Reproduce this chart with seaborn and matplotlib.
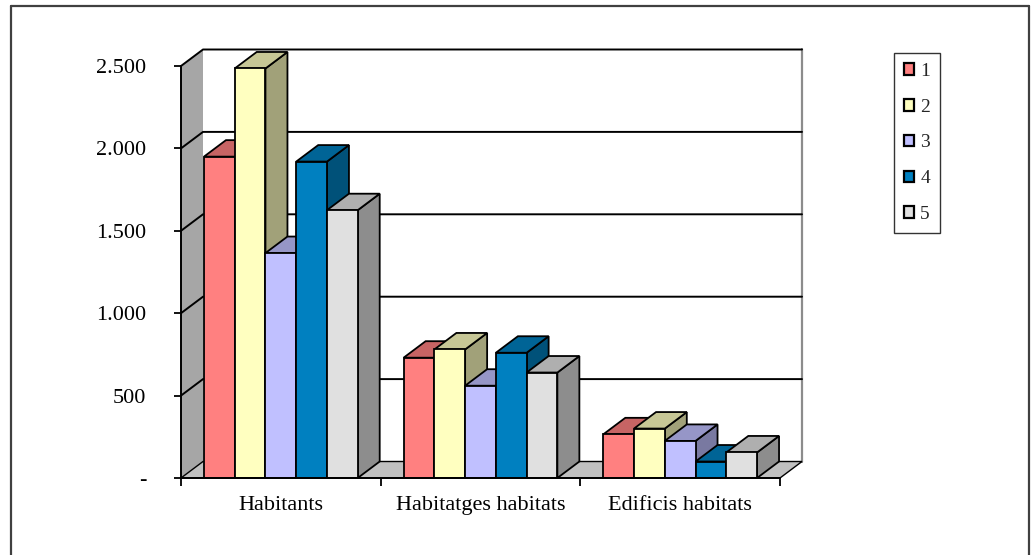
import numpy as np
import pandas as pd
import matplotlib
matplotlib.use("Agg")
import matplotlib.pyplot as plt
from matplotlib.patches import Polygon, Rectangle
from matplotlib.lines import Line2D
import seaborn as sns

# data
categories = ["Habitants", "Habitatges habitats", "Edificis habitats"]
series = ["1", "2", "3", "4", "5"]
values_1 = [1950, 730, 265]
values_2 = [2485, 780, 300]
values_3 = [1365, 560, 225]
values_4 = [1920, 760, 100]
values_5 = [1625, 640, 155]
y_ticks = [0, 500, 1000, 1500, 2000, 2500]
y_tick_labels = ["-", "500", "1.000", "1.500", "2.000", "2.500"]

colors = ["#FF8080", "#FFFFC0", "#C0C0FF", "#0080C0", "#E0E0E0"]

rows = []
for s, vals in zip(series, [values_1, values_2, values_3, values_4, values_5]):
    for c, v in zip(categories, vals):
        rows.append({"categoria": c, "serie": s, "valor": v})
df = pd.DataFrame(rows)

sns.set_style("white")
plt.rcParams['font.family'] = ['Liberation Serif', 'DejaVu Serif']

W, H = 1034, 555
fig = plt.figure(figsize=(W / 100, H / 100), dpi=100)
ax = fig.add_axes([181 / W, (H - 478) / H, 599 / W, 412 / H])

sns.barplot(data=df, x="categoria", y="valor", hue="serie", palette=colors,
            width=0.77, saturation=1, edgecolor="black", linewidth=1.3,
            legend=False, ax=ax)

ax.set_xlim(-0.5, 2.5)
ax.set_ylim(0, 2500)

# depth offset of the 3d look (22 px right, 16.5 px up)
DX = 22 / (599 / 3)
DY = 16.5 * 2500 / 412

def shade(c, f):
    r, g, b = matplotlib.colors.to_rgb(c)
    return (r * f, g * f, b * f)

bars = sorted(ax.patches, key=lambda p: p.get_x())
for k, p in enumerate(bars):
    x0, w, h = p.get_x(), p.get_width(), p.get_height()
    fc = p.get_facecolor()
    z = 10 + 2 * k
    side = Polygon([(x0 + w, 0), (x0 + w + DX, DY), (x0 + w + DX, h + DY), (x0 + w, h)],
                   closed=True, facecolor=shade(fc, 0.63), edgecolor="black", lw=1.3,
                   zorder=z, clip_on=False)
    top = Polygon([(x0, h), (x0 + w, h), (x0 + w + DX, h + DY), (x0 + DX, h + DY)],
                  closed=True, facecolor=shade(fc, 0.78), edgecolor="black", lw=1.3,
                  zorder=z, clip_on=False)
    ax.add_patch(side)
    ax.add_patch(top)
    p.set_zorder(z + 1)
    p.set_clip_on(False)

# walls and floor
x_l, x_r = -0.5, 2.5
ax.add_patch(Polygon([(x_l + DX, DY), (x_r + DX, DY), (x_r + DX, 2500 + DY), (x_l + DX, 2500 + DY)],
                     closed=True, facecolor="white", edgecolor="none", zorder=1, clip_on=False))
ax.add_line(Line2D([x_r + DX, x_r + DX], [DY, 2500 + DY], color="#8c8c8c", lw=1.6, zorder=2, clip_on=False))
ax.add_patch(Polygon([(x_l, 0), (x_l, 2500), (x_l + DX, 2500 + DY), (x_l + DX, DY)],
                     closed=True, facecolor="#A6A6A6", edgecolor="none", zorder=2, clip_on=False))
ax.add_patch(Polygon([(x_l, 0), (x_r, 0), (x_r + DX, DY), (x_l + DX, DY)],
                     closed=True, facecolor="#C0C0C0", edgecolor="black", lw=1.0, zorder=3, clip_on=False))
for v in y_ticks[1:]:
    ax.add_line(Line2D([x_l, x_l + DX, x_r + DX], [v, v + DY, v + DY], color="black", lw=1.4,
                       zorder=4, clip_on=False))

# axes lines and ticks
for s in ["top", "right"]:
    ax.spines[s].set_visible(False)
for s in ["left", "bottom"]:
    ax.spines[s].set_color("black")
    ax.spines[s].set_linewidth(1.4)
    ax.spines[s].set_zorder(50)
ax.set_yticks(y_ticks)
ax.set_yticklabels(y_tick_labels)
ax.set_xticks(range(len(categories)))
ax.set_xticklabels(categories)
ax.set_xticks([-0.5, 0.5, 1.5, 2.5], minor=True)
ax.tick_params(axis="y", which="major", left=True, length=5, width=1.3, color="black",
               pad=20, labelsize=16, labelcolor="black")
ax.tick_params(axis="x", which="major", bottom=False, length=0, pad=13, labelsize=16,
               labelcolor="black")
ax.tick_params(axis="x", which="minor", bottom=True, length=6, width=1.3, color="black")
ax.set_xlabel("")
ax.set_ylabel("")
ax.patch.set_visible(False)

# legend
handles = [Rectangle((0, 0), 1, 1, facecolor=c, edgecolor="black", lw=1.6) for c in colors]
leg = fig.legend(handles, series, loc="upper left", bbox_to_anchor=(894 / W, 1 - 53 / H),
                 fontsize=14, handlelength=0.55, handleheight=0.55, handletextpad=0.3,
                 labelspacing=0.97, borderpad=0.5, borderaxespad=0, frameon=True,
                 fancybox=False)
leg.get_frame().set_edgecolor("black")
leg.get_frame().set_linewidth(1.0)

# outer chart border
for xs, ys in [([11, 11], [0, H - 6]), ([11, 1029], [H - 6, H - 6]), ([1029, 1029], [H - 6, 0])]:
    fig.add_artist(Line2D([x / W for x in xs], [y / H for y in ys], color="#404040", lw=1.6,
                          transform=fig.transFigure))

fig.savefig("out.png", dpi=100)
